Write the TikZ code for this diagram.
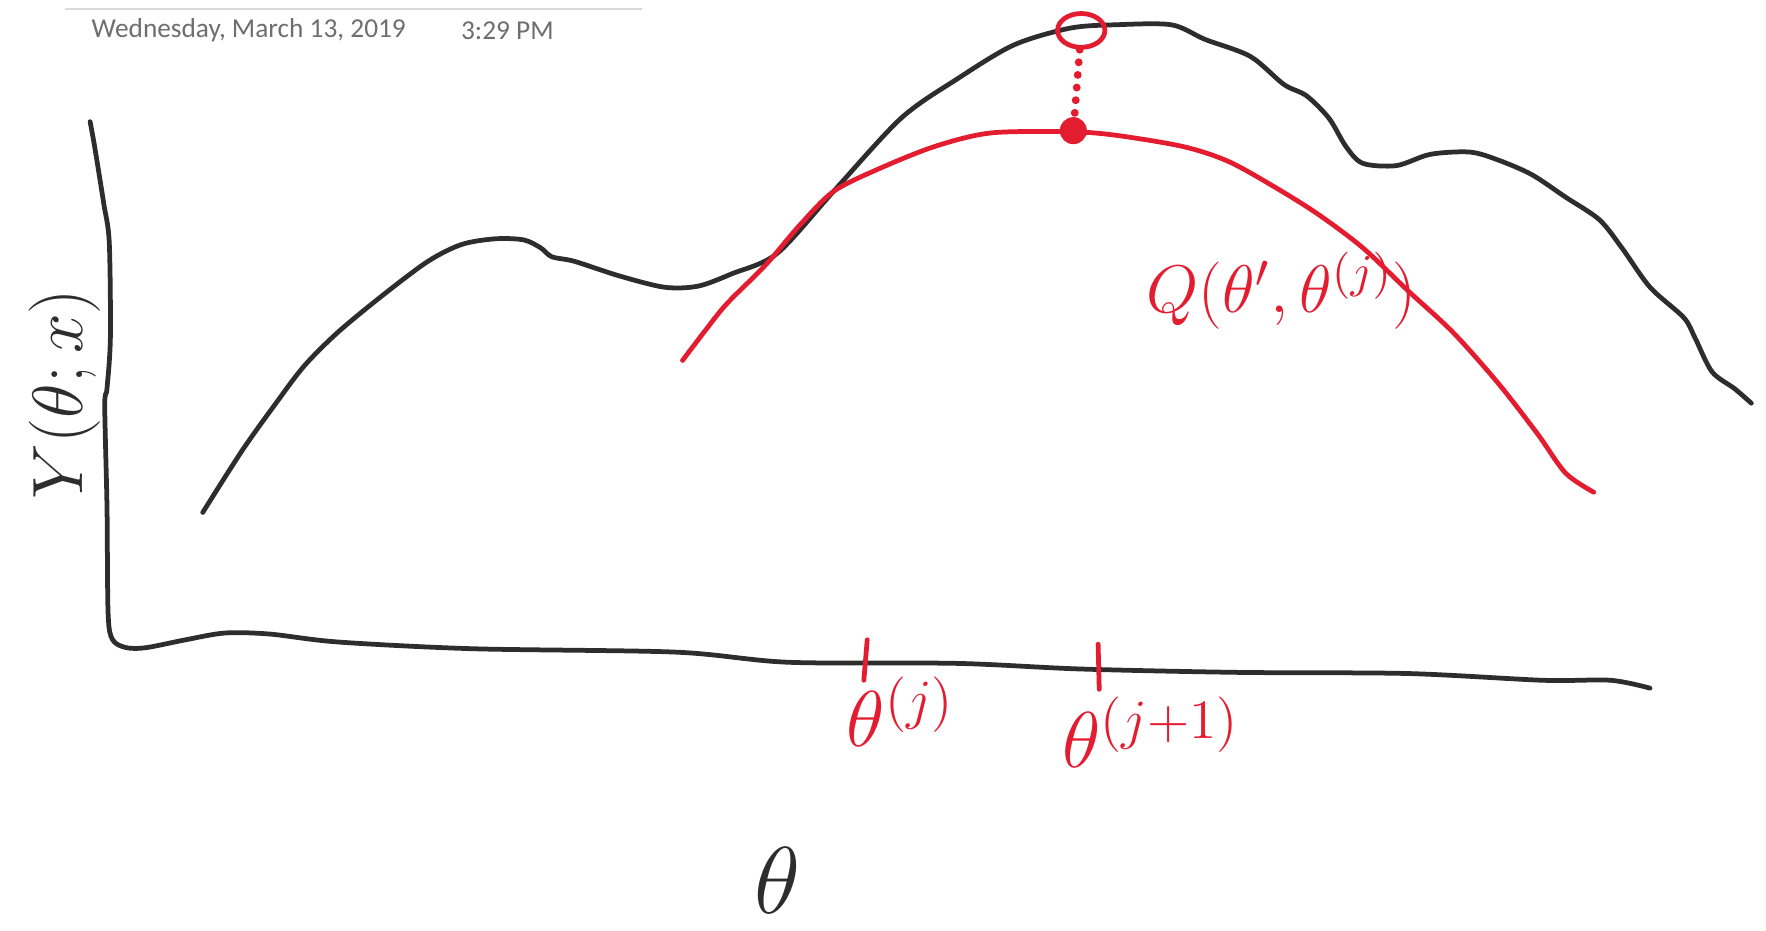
\documentclass[tikz,border=0pt]{standalone}
\usepackage{fix-cm}
\usepackage{amsmath}
\usepackage{fontspec}
\setmainfont{Carlito}
\usetikzlibrary{shapes.geometric, positioning}
\definecolor{inkblack}{RGB}{45,45,45}
\definecolor{inkred}{RGB}{228,28,48}
\definecolor{stampgray}{RGB}{110,110,110}

\begin{document}
\begin{tikzpicture}[x=0.01cm, y=-0.01cm,
    pen/.style={line width=1.2pt, inkblack, line cap=round, line join=round},
    redpen/.style={pen, inkred},
    hand/.style={font=\fontsize{20}{22}\selectfont},
    stamp/.style={stampgray, anchor=west, font=\fontsize{6.9}{8}\selectfont}]

        \useasboundingbox (0,0) rectangle (1568,826);

        % page header
        \draw[black!15, line width=0.6pt] (58,8) -- (570,8);
        \node[stamp] (date) at (69,27) {Wednesday, March 13, 2019};
        \node[stamp] (time) at (397,27) {3:29 PM};

        % axes
        \draw[pen] plot[smooth, tension=0.5] coordinates {(80,108) (84,130) (92,180) (97,215) (98,300) (95,345) (93,360) (95,450) (96,545) (100,568) (112,575) (130,575) (165,568) (200,562) (240,563) (300,570) (420,576) (600,579) (700,588) (850,589) (960,594) (1100,597) (1250,598) (1370,604) (1430,604) (1465,611)};

        % likelihood
        \draw[pen] plot[smooth, tension=0.5] coordinates {(180,455) (215,400) (245,358) (270,325) (300,295) (340,262) (380,232) (410,217) (440,212) (465,213) (480,220) (490,228) (510,232) (550,245) (590,255) (620,254) (650,243) (690,225) (740,170) (800,105) (850,70) (900,40) (950,25) (990,22) (1040,22) (1070,35) (1110,50) (1140,75) (1160,85) (1180,105) (1195,130) (1210,145) (1240,147) (1270,137) (1305,135) (1330,142) (1360,155) (1390,175) (1420,195) (1440,220) (1465,255) (1495,282) (1505,300) (1520,330) (1540,345) (1555,358)};

        % lower bound
        \draw[redpen] plot[smooth, tension=0.5] coordinates {(606,320) (625,295) (645,270) (680,235) (710,200) (740,170) (780,150) (830,130) (880,118) (950,117) (990,120) (1050,130) (1090,143) (1130,165) (1170,190) (1210,220) (1250,258) (1290,295) (1330,340) (1365,385) (1390,420) (1415,437)};

        \node[draw=inkred, line width=1.2pt, ellipse, minimum width=0.42cm, minimum height=0.3cm, inner sep=0] (peak) at (960,27) {};
        \node[circle, fill=inkred, minimum size=0.24cm, inner sep=0] (touch) at (953,116) {};
        \draw[inkred, line width=2pt, line cap=round, dash pattern=on 0pt off 3.2pt] (peak) -- (touch);

        % ticks
        \draw[redpen] (770,568) -- (767,604);
        \draw[redpen] (975,572) -- (976,612);

        % labels
        \node[inkred, font=\fontsize{17}{19}\selectfont] (qlabel) at (1138,258) {$Q(\theta',\theta^{(j)})$};
        \node[inkblack, font=\fontsize{18}{20}\selectfont, rotate=90] (ylabel) at (57,350) {$Y(\theta;x)$};
        \node[inkblack, font=\fontsize{24}{26}\selectfont, inner sep=0] (axlabel) at (690,782) {$\theta$};
        \node[inkred, hand] (thj) at (800,632) {$\theta^{(j)}$};
        \node[inkred, hand] (thjnext) at (1022,650) {$\theta^{(j+1)}$};

\end{tikzpicture}
\end{document}
